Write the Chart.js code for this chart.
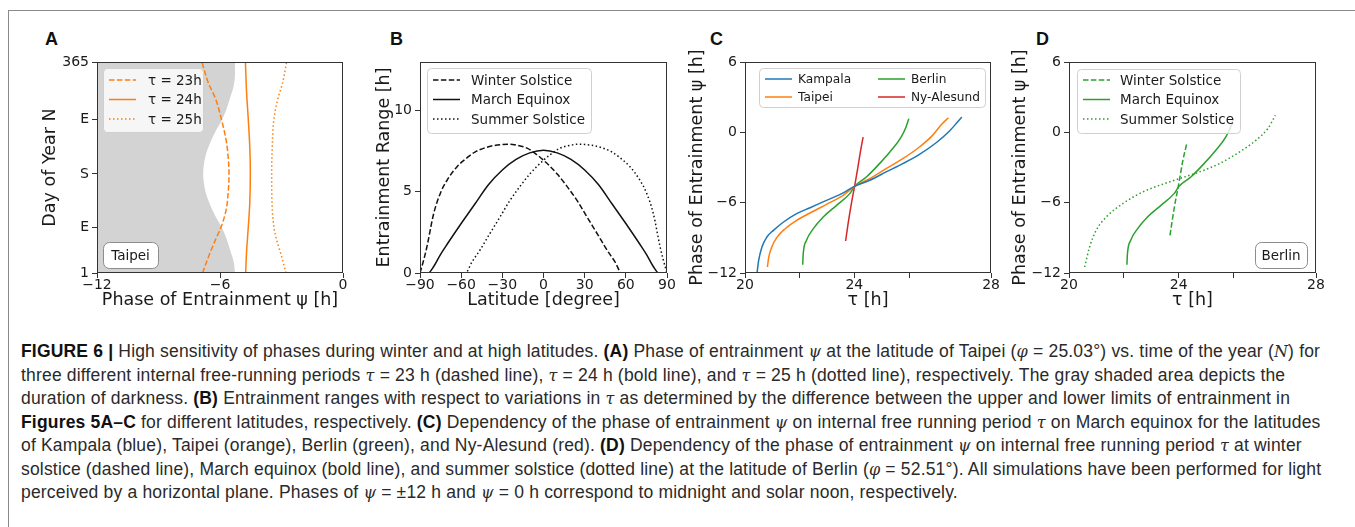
<!DOCTYPE html>
<html>
<head>
<meta charset="utf-8">
<script src="https://cdn.jsdelivr.net/npm/chart.js@4.4.1/dist/chart.umd.min.js"></script>
<style>
  body { margin: 0; background: #fff; width: 1355px; height: 527px; overflow: hidden; position: relative; }
  .frame { position: absolute; left: 8px; top: 10px; width: 1400px; height: 600px; border-left: 1px solid #8a8a8a; border-top: 1px solid #8a8a8a; }
  canvas { position: absolute; }
  .letter { position: absolute; font: bold 18px "Liberation Sans", Arial, sans-serif; line-height: 18px; color: #111; }
  #caption { position: absolute; left: 21px; top: 340px; font: 17.5px "Liberation Sans", Arial, sans-serif; line-height: 22.5px; color: #2a2a2a; white-space: nowrap; }
  #caption .ln { width: max-content; }
  #caption b { font-weight: bold; color: #111; }
  #caption i { font-family: "DejaVu Serif", serif; font-size: 16px; }
</style>
</head>
<body>
<div class="frame"></div>
<div class="letter" style="left:45px;top:30px">A</div>
<div class="letter" style="left:390px;top:30px">B</div>
<div class="letter" style="left:710px;top:30px">C</div>
<div class="letter" style="left:1036px;top:30px">D</div>
<canvas id="pa" width="325" height="280" style="left:30px;top:40px"></canvas>
<canvas id="pb" width="320" height="280" style="left:360px;top:40px"></canvas>
<canvas id="pc" width="320" height="280" style="left:680px;top:40px"></canvas>
<canvas id="pd" width="340" height="280" style="left:1000px;top:40px"></canvas>
<div id="caption">
<div class="ln"><b>FIGURE 6 |</b> High sensitivity of phases during winter and at high latitudes. <b>(A)</b> Phase of entrainment <i>ψ</i> at the latitude of Taipei (<i>φ</i> = 25.03°) vs. time of the year (<i>N</i>) for</div>
<div class="ln">three different internal free-running periods <i>τ</i> = 23 h (dashed line), <i>τ</i> = 24 h (bold line), and <i>τ</i> = 25 h (dotted line), respectively. The gray shaded area depicts the</div>
<div class="ln">duration of darkness. <b>(B)</b> Entrainment ranges with respect to variations in <i>τ</i> as determined by the difference between the upper and lower limits of entrainment in</div>
<div class="ln"><b>Figures 5A–C</b> for different latitudes, respectively. <b>(C)</b> Dependency of the phase of entrainment <i>ψ</i> on internal free running period <i>τ</i> on March equinox for the latitudes</div>
<div class="ln">of Kampala (blue), Taipei (orange), Berlin (green), and Ny-Alesund (red). <b>(D)</b> Dependency of the phase of entrainment <i>ψ</i> on internal free running period <i>τ</i> at winter</div>
<div class="ln">solstice (dashed line), March equinox (bold line), and summer solstice (dotted line) at the latitude of Berlin (<i>φ</i> = 52.51°). All simulations have been performed for light</div>
<div class="ln">perceived by a horizontal plane. Phases of <i>ψ</i> = ±12 h and <i>ψ</i> = 0 h correspond to midnight and solar noon, respectively.</div>
</div>
<script>
// ---- panel A: Taipei, phase of entrainment over the year ----
const dayTicks = [1, 80, 172, 266, 365];
const dayTickLabels = ["1", "E", "S", "E", "365"];
const phaseTicksA = [-12, -6, 0];

const darkDays = [1, 20, 40, 60, 80, 100, 120, 140, 160, 172, 184, 204, 224, 244, 264, 284, 304, 324, 344, 365];
const darkEdge = [-5.27, -5.33, -5.5, -5.68, -5.92, -6.24, -6.5, -6.7, -6.8, -6.82, -6.8, -6.7, -6.5, -6.24, -5.92, -5.68, -5.5, -5.33, -5.27, -5.27];

const days23 = [1, 30, 60, 80, 110, 140, 172, 200, 230, 266, 300, 330, 365];
const psi23 = [-6.85, -6.55, -6.2, -5.95, -5.7, -5.6, -5.56, -5.6, -5.7, -5.93, -6.2, -6.58, -6.88];
const days24 = [1, 40, 80, 120, 172, 220, 266, 310, 365];
const psi24 = [-4.75, -4.7, -4.62, -4.55, -4.52, -4.55, -4.62, -4.7, -4.76];
const days25 = [1, 30, 60, 80, 120, 172, 220, 266, 300, 330, 365];
const psi25 = [-2.78, -3.0, -3.25, -3.37, -3.46, -3.48, -3.45, -3.37, -3.19, -2.94, -2.75];

// ---- panel B: entrainment range vs latitude ----
const latTicks = [-90, -60, -30, 0, 30, 60, 90];
const rangeTicks = [0, 5, 10];
const latWinter = [-90, -87, -85, -80, -75, -70, -63, -55, -50, -40, -30, -25, -20, -12, -5, 0, 5, 10, 17, 25, 31, 40, 46, 52, 57, 60, 70, 80, 90];
const rangeWinter = [0, 0.9, 1.6, 3.67, 4.95, 5.75, 6.55, 7.15, 7.45, 7.78, 7.92, 7.94, 7.88, 7.69, 7.3, 6.95, 6.55, 6.1, 5.35, 4.4, 3.55, 2.3, 1.45, 0.7, 0, 0, 0, 0, 0];
const latEquinox = [-90, -84, -80, -75, -70, -60, -50, -40, -30, -20, -10, 0, 10, 20, 30, 40, 50, 60, 70, 75, 80, 84, 90];
const rangeEquinox = [0, 0, 0.4, 1.15, 1.8, 3.05, 4.25, 5.45, 6.35, 7.0, 7.4, 7.56, 7.4, 7.0, 6.35, 5.45, 4.25, 3.05, 1.8, 1.15, 0.4, 0, 0];
const latSummer = [-90, -80, -70, -60, -57, -52, -46, -40, -31, -25, -17, -10, -5, 0, 5, 12, 20, 25, 30, 40, 50, 55, 63, 70, 75, 80, 85, 87, 90];
const rangeSummer = [0, 0, 0, 0, 0, 0.7, 1.45, 2.3, 3.55, 4.4, 5.35, 6.1, 6.55, 6.95, 7.3, 7.69, 7.88, 7.94, 7.92, 7.78, 7.45, 7.15, 6.55, 5.75, 4.95, 3.67, 1.6, 0.9, 0];

// ---- panels C and D: phase vs free-running period ----
// the figure's last tau label ("28") sits on the right edge of the axis
const tauTicks = [20, 22, 24, 26, 29];
const tauTickLabels = ["20", "", "24", "", "28"];
const phaseTicks = [-12, -6, 0, 6];

const tauKampala = [20.44, 20.5, 20.62, 20.8, 21.04, 21.41, 21.89, 22.38, 22.98, 23.59, 24.01, 24.56, 25.16, 25.77, 26.38, 26.98, 27.47, 27.77, 27.93];
const psiKampala = [-12.0, -10.92, -9.78, -8.93, -8.36, -7.65, -6.94, -6.43, -5.8, -5.17, -4.6, -4.09, -3.38, -2.67, -1.88, -0.91, 0.09, 0.88, 1.31];
const tauTaipei = [20.82, 20.87, 20.98, 21.16, 21.47, 21.89, 22.38, 22.98, 23.59, 24.01, 24.56, 25.16, 25.77, 26.38, 26.86, 27.16, 27.44];
const psiTaipei = [-11.49, -10.63, -9.78, -8.98, -8.22, -7.51, -6.88, -6.14, -5.37, -4.6, -3.95, -3.1, -2.25, -1.25, -0.26, 0.6, 1.25];
const tauBerlin = [22.11, 22.13, 22.25, 22.5, 22.86, 23.35, 23.83, 24.01, 24.44, 24.92, 25.35, 25.71, 25.89, 25.99];
const psiBerlin = [-11.29, -10.35, -9.21, -8.22, -7.22, -6.23, -5.23, -4.6, -3.81, -2.67, -1.53, -0.4, 0.46, 1.17];
const tauNyAlesund = [23.68, 23.77, 23.89, 24.01, 24.13, 24.23, 24.32];
const psiNyAlesund = [-9.27, -7.79, -6.08, -4.58, -2.96, -1.53, -0.4];

const tauBerlinWinter = [23.68, 23.84, 23.99, 24.15, 24.29];
const psiBerlinWinter = [-8.79, -6.37, -4.52, -2.39, -0.97];
const tauBerlinSummer = [20.57, 20.75, 20.99, 21.36, 21.96, 22.69, 23.54, 24.02, 24.75, 25.48, 26.21, 26.81, 27.24, 27.52];
const psiBerlinSummer = [-11.49, -9.78, -8.36, -7.22, -6.08, -5.09, -4.32, -3.95, -3.38, -2.67, -1.68, -0.68, 0.31, 1.45];

const ink = "#1a1a1a";
const frameColor = "#333";
const titleFont = { family: "DejaVu Sans", size: 17.5 };
const DASH = [5.5, 2.4];
const DOT = [1.5, 2.5];

const orange = "#ff7f0e", blue = "#1f77b4", green = "#2ca02c", red = "#d62728";

function pts(xs, ys) {
  return xs.map((x, i) => ({ x: x, y: ys[i] }));
}
function minus(v) {
  return String(v).replace("-", "\u2212");
}

function series(label, data, color, dash) {
  return {
    label: label,
    data: data,
    borderColor: color,
    borderWidth: 1.5,
    borderDash: dash || [],
    pointRadius: 0,
    fill: false,
    cubicInterpolationMode: "monotone",
  };
}

function makeScale(c) {
  const left = c.position === "left";
  return {
    type: "linear",
    position: c.position,
    min: c.min,
    max: c.max,
    afterBuildTicks: (ax) => { ax.ticks = c.ticks.map((v) => ({ value: v })); },
    afterFit: (ax) => { if (left) ax.width = c.size; else ax.height = c.size; },
    grid: { drawOnChartArea: false, drawTicks: true, tickLength: 5, color: frameColor, lineWidth: 1 },
    border: { display: false },
    ticks: {
      font: { family: "DejaVu Sans", size: 14, lineHeight: 1 },
      color: ink, padding: left ? 3 : 0, maxRotation: 0, autoSkip: false, callback: c.label,
    },
    title: {
      display: true, text: c.title, font: titleFont, color: ink,
      padding: left ? { top: c.titlePad, bottom: 0 } : { top: 0, bottom: c.titlePad },
    },
  };
}

// frame around the plot, matplotlib-like legend box and text box
const insetBoxes = {
  id: "insetBoxes",
  afterDatasetsDraw(chart, args, opts) {
    const { ctx, chartArea: a } = chart;
    ctx.save();
    ctx.strokeStyle = frameColor;
    ctx.lineWidth = 1;
    ctx.strokeRect(Math.round(a.left) + 0.5, Math.round(a.top) + 0.5, Math.round(a.right - a.left) - 1, Math.round(a.bottom - a.top) - 1);

    const lg = opts.legend;
    if (lg) {
      const x0 = a.left + lg.x, y0 = a.top + lg.y;
      ctx.beginPath();
      ctx.roundRect(x0 + 0.5, y0 + 0.5, lg.w, lg.h, 4);
      ctx.fillStyle = "rgba(255,255,255,0.8)";
      ctx.fill();
      ctx.strokeStyle = "#d0d0d0";
      ctx.stroke();
      ctx.font = lg.font + 'px "DejaVu Sans"';
      ctx.textBaseline = "middle";
      lg.order.forEach((di, k) => {
        const ds = chart.data.datasets[di];
        const col = Math.floor(k / lg.rows), row = k % lg.rows;
        const lx = x0 + 6 + col * (lg.colW || 0);
        const ly = y0 + lg.first + row * lg.rowH;
        ctx.setLineDash(ds.borderDash);
        ctx.strokeStyle = ds.borderColor;
        ctx.lineWidth = ds.borderWidth;
        ctx.beginPath();
        ctx.moveTo(lx, ly);
        ctx.lineTo(lx + 27, ly);
        ctx.stroke();
        ctx.setLineDash([]);
        ctx.fillStyle = ink;
        ctx.fillText(ds.label, lx + lg.textX, ly + 1);
      });
    }

    const nt = opts.note;
    if (nt) {
      const x0 = a.left + nt.x, y0 = a.top + nt.y;
      ctx.beginPath();
      ctx.roundRect(x0 + 0.5, y0 + 0.5, nt.w, nt.h, 6);
      ctx.fillStyle = "#fff";
      ctx.fill();
      ctx.strokeStyle = "#8c8c8c";
      ctx.lineWidth = 1;
      ctx.stroke();
      ctx.font = '13.5px "DejaVu Sans"';
      ctx.fillStyle = ink;
      ctx.textAlign = "center";
      ctx.textBaseline = "middle";
      ctx.fillText(nt.text, x0 + nt.w / 2, y0 + nt.h / 2 + 1);
    }
    ctx.restore();
  },
};

function baseOptions(pad, extra) {
  return Object.assign({
    responsive: false,
    animation: false,
    events: [],
    layout: { padding: pad },
  }, extra);
}

const quiet = { legend: { display: false }, tooltip: { enabled: false } };

// Panel A
new Chart(document.getElementById("pa"), {
  type: "line",
  data: {
    datasets: [
      series("\u03c4 = 23h", pts(psi23, days23), orange, DASH),
      series("\u03c4 = 24h", pts(psi24, days24), orange),
      series("\u03c4 = 25h", pts(psi25, days25), orange, DOT),
      {
        label: "darkness",
        data: pts(darkEdge, darkDays),
        borderColor: "rgba(0,0,0,0)",
        borderWidth: 0,
        pointRadius: 0,
        backgroundColor: "#d3d3d3",
        fill: { value: -12 },
        cubicInterpolationMode: "monotone",
      },
    ],
  },
  options: baseOptions({ left: 0, top: 22, right: 12, bottom: 0 }, {
    indexAxis: "y",
    scales: {
      x: makeScale({ position: "bottom", min: -12, max: 0, ticks: phaseTicksA, size: 47, titlePad: 9.5,
        title: "Phase of Entrainment \u03c8 [h]", label: (v) => minus(v) }),
      y: makeScale({ position: "left", min: 1, max: 365, ticks: dayTicks, size: 67, titlePad: 9.5,
        title: "Day of Year N", label: (v) => dayTickLabels[dayTicks.indexOf(v)] }),
    },
    plugins: Object.assign({}, quiet, {
      insetBoxes: {
        legend: { x: 6, y: 6, w: 100, h: 64, rows: 3, first: 12, rowH: 19.5, textX: 39, font: 13.5, order: [0, 1, 2] },
        note: { text: "Taipei", x: 6, y: 180, w: 55, h: 26 },
      },
    }),
  }),
  plugins: [insetBoxes],
});

// Panel B
new Chart(document.getElementById("pb"), {
  type: "line",
  data: {
    datasets: [
      series("Winter Solstice", pts(latWinter, rangeWinter), "#111", DASH),
      series("March Equinox", pts(latEquinox, rangeEquinox), "#111"),
      series("Summer Solstice", pts(latSummer, rangeSummer), "#111", DOT),
    ],
  },
  options: baseOptions({ left: 0, top: 22, right: 13, bottom: 0 }, {
    scales: {
      x: makeScale({ position: "bottom", min: -90, max: 90, ticks: latTicks, size: 47, titlePad: 9.5,
        title: "Latitude [degree]", label: (v) => minus(v) }),
      y: makeScale({ position: "left", min: 0, max: 13, ticks: rangeTicks, size: 60, titlePad: 14,
        title: "Entrainment Range [h]", label: (v) => String(v) }),
    },
    plugins: Object.assign({}, quiet, {
      insetBoxes: {
        legend: { x: 7, y: 6, w: 164, h: 65, rows: 3, first: 12, rowH: 19.5, textX: 38, font: 13.5, order: [0, 1, 2] },
      },
    }),
  }),
  plugins: [insetBoxes],
});

function tauLabel(v) {
  return tauTickLabels[tauTicks.indexOf(v)];
}

// Panel C
new Chart(document.getElementById("pc"), {
  type: "line",
  data: {
    datasets: [
      series("Kampala", pts(tauKampala, psiKampala), blue),
      series("Taipei", pts(tauTaipei, psiTaipei), orange),
      series("Berlin", pts(tauBerlin, psiBerlin), green),
      series("Ny-Alesund", pts(tauNyAlesund, psiNyAlesund), red),
    ],
  },
  options: baseOptions({ left: 0, top: 22, right: 8, bottom: 0 }, {
    scales: {
      x: makeScale({ position: "bottom", min: 20, max: 29, ticks: tauTicks, size: 47, titlePad: 9.5,
        title: "\u03c4 [h]", label: tauLabel }),
      y: makeScale({ position: "left", min: -12, max: 6, ticks: phaseTicks, size: 65, titlePad: 6.5,
        title: "Phase of Entrainment \u03c8 [h]", label: (v) => minus(v) }),
    },
    plugins: Object.assign({}, quiet, {
      insetBoxes: {
        legend: { x: 14, y: 6, w: 226, h: 39, rows: 2, colW: 113, first: 11, rowH: 18, textX: 33, font: 12.2, order: [0, 1, 2, 3] },
      },
    }),
  }),
  plugins: [insetBoxes],
});

// Panel D
new Chart(document.getElementById("pd"), {
  type: "line",
  data: {
    datasets: [
      series("Winter Solstice", pts(tauBerlinWinter, psiBerlinWinter), green, DASH),
      series("March Equinox", pts(tauBerlin, psiBerlin), green),
      series("Summer Solstice", pts(tauBerlinSummer, psiBerlinSummer), green, DOT),
    ],
  },
  options: baseOptions({ left: 0, top: 22, right: 24, bottom: 0 }, {
    scales: {
      x: makeScale({ position: "bottom", min: 20, max: 29, ticks: tauTicks, size: 47, titlePad: 9.5,
        title: "\u03c4 [h]", label: tauLabel }),
      y: makeScale({ position: "left", min: -12, max: 6, ticks: phaseTicks, size: 69, titlePad: 9.5,
        title: "Phase of Entrainment \u03c8 [h]", label: (v) => minus(v) }),
    },
    plugins: Object.assign({}, quiet, {
      insetBoxes: {
        legend: { x: 8, y: 7, w: 163, h: 64, rows: 3, first: 11, rowH: 19.5, textX: 37, font: 13.5, order: [0, 1, 2] },
        note: { text: "Berlin", x: 186, y: 180, w: 52, h: 26 },
      },
    }),
  }),
  plugins: [insetBoxes],
});

// one letter spacing for the whole caption, so that its first line ends at x = 1320
const lines = document.querySelectorAll("#caption .ln");
const firstW = lines[0].getBoundingClientRect().width;
const spacing = Math.max(-1, Math.min(1, (1320 - 21 - firstW) / lines[0].textContent.length));
document.getElementById("caption").style.letterSpacing = spacing.toFixed(3) + "px";
</script>
</body>
</html>
